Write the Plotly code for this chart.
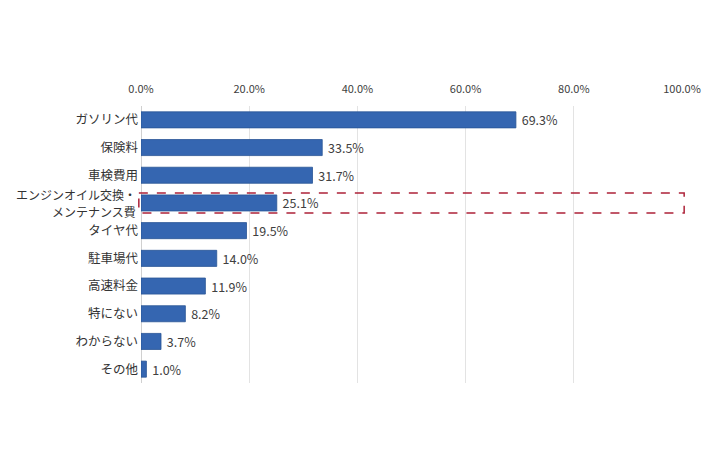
import plotly.graph_objects as go

categories = ["ガソリン代", "保険料", "車検費用", "エンジンオイル交換・\nメンテナンス費", "タイヤ代",
              "駐車場代", "高速料金", "特にない", "わからない", "その他"]
values = [69.3, 33.5, 31.7, 25.1, 19.5, 14.0, 11.9, 8.2, 3.7, 1.0]
tick_vals = [0, 20, 40, 60, 80, 100]
tick_text = ["0.0%", "20.0%", "40.0%", "60.0%", "80.0%", "100.0%"]
highlight = 3  # boxed category

fig = go.Figure(go.Bar(
    x=values,
    y=list(range(len(categories))),
    orientation="h",
    width=0.58,
    marker=dict(color="#3566b1", line=dict(color="#2a5595", width=0.8)),
    text=[f"\u00a0{v:.1f}%" for v in values],
    textposition="outside",
    constraintext="none",
    textfont=dict(size=12.5, color="#404040"),
    cliponaxis=False,
))

# red dashed box around the highlighted row (paper x so the edges are not clipped)
fig.add_shape(
    type="rect", xref="paper", yref="y",
    x0=-0.004, x1=1.004, y0=highlight - 0.36, y1=highlight + 0.36,
    line=dict(color="#ad2238", width=1.5, dash="dash"),
)

# two-line label drawn as separate lines so they get a bit more room
line_gap = 17.5
ticks = [c if "\n" not in c else "" for c in categories]
for i, c in enumerate(categories):
    if "\n" in c:
        lines = c.split("\n")
        for k, line in enumerate(lines):
            fig.add_annotation(
                x=0, xref="paper", y=i, yref="y", text=line, showarrow=False,
                xanchor="right", xshift=-4, borderpad=0,
                yshift=(len(lines) - 1) / 2 * line_gap - k * line_gap,
                font=dict(size=12, color="#333333"),
            )

# page body adds an 8px offset, so margins are shifted to compensate
fig.update_layout(
    width=710, height=474,
    margin=dict(l=133, r=36, t=98, b=99),
    plot_bgcolor="white", paper_bgcolor="white",
    font=dict(family="Noto Sans CJK JP", color="#404040"),
    showlegend=False,
    xaxis=dict(
        side="top", range=[0, 100], tickvals=tick_vals, ticktext=tick_text,
        showgrid=True, gridcolor="#e3e3e3", gridwidth=1,
        zeroline=True, zerolinecolor="#d0d0d0", zerolinewidth=1,
        tickfont=dict(size=11, color="#404040"), ticks="", ticklabelstandoff=10,
        automargin=False,
    ),
    yaxis=dict(
        tickvals=list(range(len(categories))), ticktext=ticks,
        range=[len(categories) - 0.5, -0.5],
        showgrid=False, zeroline=False, ticks="",
        tickfont=dict(size=12.5, color="#333333"), ticklabelstandoff=2,
        automargin=False,
    ),
)

fig.write_html("out.html")
